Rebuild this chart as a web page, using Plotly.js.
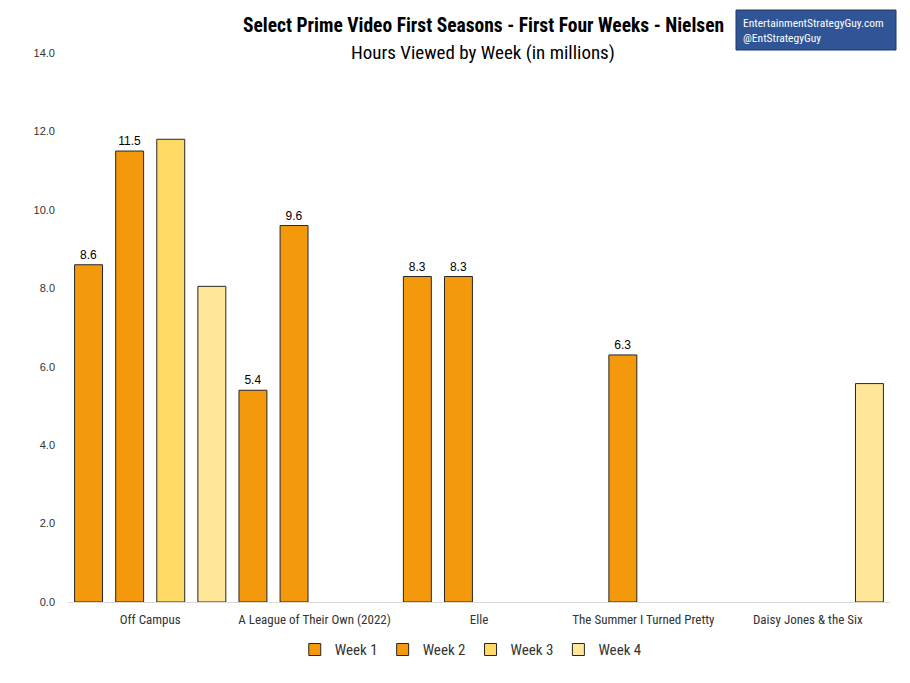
<!DOCTYPE html>
<html>
<head>
<meta charset="utf-8">
<script src="https://cdn.plot.ly/plotly-3.0.1.min.js"></script>
<style>
  html, body { margin: 0; padding: 0; background: #fff; }
  #chart { width: 910px; height: 683px; }
</style>
</head>
<body>
<div id="chart"></div>
<script>
const shows = ["Off Campus", "A League of Their Own (2022)", "Elle", "The Summer I Turned Pretty", "Daisy Jones & the Six"];
const week1 = [8.6, 5.4, 8.3, null, null];
const week2 = [11.5, 9.6, 8.3, 6.3, null];
const week3 = [11.8, null, null, null, null];
const week4 = [8.05, null, null, null, 5.57];

const narrow = "'Roboto Condensed', 'Liberation Sans Narrow', Roboto, sans-serif";
const plain = "'Liberation Sans', Arial, sans-serif";

function series(name, vals, color, labelled) {
  return {
    type: "bar",
    name: name,
    x: shows,
    y: vals,
    marker: { color: color, line: { color: "#262626", width: 1 } },
    text: labelled ? vals.map(v => v == null ? "" : v.toFixed(1)) : undefined,
    textposition: labelled ? "outside" : "none",
    textfont: { family: plain, size: 12, color: "#000" },
    cliponaxis: false,
    hoverinfo: "x+y"
  };
}

const traces = [
  series("Week 1", week1, "#F5990C", true),
  series("Week 2", week2, "#F5990C", true),
  series("Week 3", week3, "#FFD966", false),
  series("Week 4", week4, "#FFE699", false)
];

const layout = {
  width: 910,
  height: 683,
  margin: { l: 68, r: 20, t: 53, b: 81 },
  paper_bgcolor: "#fff",
  plot_bgcolor: "#fff",
  barmode: "group",
  bargap: 0,
  bargroupgap: 0.32,
  font: { family: narrow, color: "#333" },
  xaxis: {
    showgrid: false,
    showline: true,
    linecolor: "#d9d9d9",
    linewidth: 1,
    ticks: "",
    ticklabelstandoff: 5,
    tickfont: { family: narrow, size: 13, color: "#333" }
  },
  yaxis: {
    range: [0, 14],
    dtick: 2,
    tickformat: ".1f",
    showgrid: false,
    zeroline: false,
    showline: false,
    ticks: "",
    ticklabelstandoff: 12,
    tickfont: { family: plain, size: 11, color: "#333" }
  },
  showlegend: true,
  legend: {
    orientation: "h",
    x: 0.49,
    xanchor: "center",
    y: -0.087,
    yanchor: "middle",
    font: { family: narrow, size: 15, color: "#333" },
    itemwidth: 30,
    traceorder: "normal"
  },
  shapes: [
    { type: "rect", xref: "paper", yref: "paper",
      x0: (736 - 68) / 822, x1: (896 - 68) / 822,
      y0: (602 - 50) / 549, y1: (602 - 10) / 549,
      fillcolor: "#2F5597", line: { color: "#1F3864", width: 1 } }
  ],
  annotations: [
    { text: "<b>Select Prime Video First Seasons - First Four Weeks - Nielsen</b>",
      xref: "paper", yref: "paper", x: (483 - 68) / 822, y: (602 - 25) / 549,
      xanchor: "center", yanchor: "middle", showarrow: false,
      font: { family: narrow, size: 19.5, color: "#000" } },
    { text: "Hours Viewed by Week (in millions)",
      xref: "paper", yref: "paper", x: (483 - 68) / 822, y: (602 - 52) / 549,
      xanchor: "center", yanchor: "middle", showarrow: false,
      font: { family: narrow, size: 19, color: "#000" } },
    { text: "EntertainmentStrategyGuy.com<br>@EntStrategyGuy",
      xref: "paper", yref: "paper", x: (741 - 68) / 822, y: (602 - 30) / 549,
      xanchor: "left", yanchor: "middle", align: "left", showarrow: false,
      font: { family: narrow, size: 11.5, color: "#fff" } }
  ]
};

Plotly.newPlot("chart", traces, layout, { displayModeBar: false, responsive: false });
</script>
</body>
</html>
